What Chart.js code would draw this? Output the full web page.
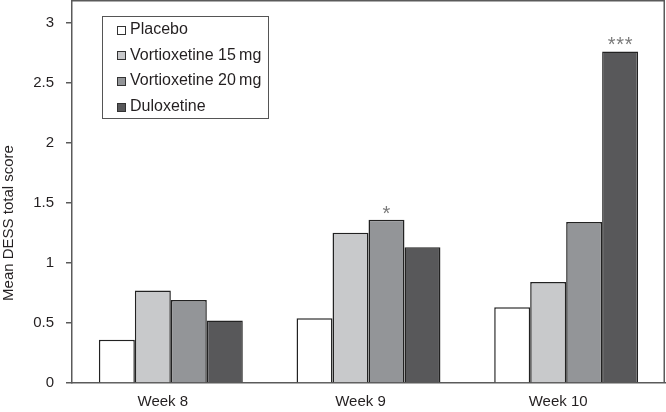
<!DOCTYPE html>
<html>
<head>
<meta charset="utf-8">
<script src="https://cdn.jsdelivr.net/npm/chart.js@4"></script>
<style>
  html, body { margin: 0; padding: 0; background: #fff; }
  #wrap { width: 666px; height: 412px; }
</style>
</head>
<body>
<div id="wrap"><canvas id="dessChart" width="666" height="412"></canvas></div>
<script>
// Data
const weeks = ['Week 8', 'Week 9', 'Week 10'];
const seriesNames = ['Placebo', 'Vortioxetine 15\u202Fmg', 'Vortioxetine 20\u202Fmg', 'Duloxetine'];
const placebo = [0.36, 0.54, 0.63];
const vortio15 = [0.77, 1.25, 0.84];
const vortio20 = [0.69, 1.36, 1.34];
const duloxetine = [0.52, 1.13, 2.76];
const yTicks = [0, 0.5, 1, 1.5, 2, 2.5, 3];
const yTickLabels = ['0', '0.5', '1', '1.5', '2', '2.5', '3'];
// significance marks: [series index, week index, text]
const sigMarks = [[2, 1, '*'], [3, 2, '***']];

const fills = ['#ffffff', '#c8c9cb', '#939598', '#58585a'];
const textColor = '#231f20';
const fontFamily = '"Liberation Sans", Arial, Helvetica, sans-serif';

// Frame, y title, legend box and asterisks
const extras = {
    id: 'extras',
    afterDatasetsDraw(chart) {
        const ctx = chart.ctx;
        const area = chart.chartArea;
        ctx.save();

        // top and right edge of the plot box
        ctx.strokeStyle = '#5a5a5a';
        ctx.lineWidth = 1.5;
        ctx.beginPath();
        ctx.moveTo(area.left, 0.75);
        ctx.lineTo(area.right - 0.75, 0.75);
        ctx.lineTo(area.right - 0.75, area.bottom);
        ctx.stroke();

        // asterisks
        ctx.fillStyle = '#7a7a7a';
        ctx.font = '20px ' + fontFamily;
        const m = ctx.measureText('*');
        const mid = (m.actualBoundingBoxAscent - m.actualBoundingBoxDescent) / 2;
        ctx.textAlign = 'center';
        ctx.textBaseline = 'alphabetic';
        sigMarks.forEach(function(s) {
            const bar = chart.getDatasetMeta(s[0]).data[s[1]];
            const n = s[2].length;
            for (let i = 0; i < n; i++) {
                const x = bar.x + (i - (n - 1) / 2) * 8.5;
                ctx.fillText('*', x, bar.y - 10 + mid);
            }
        });

        // y axis title
        ctx.fillStyle = textColor;
        ctx.font = '15px ' + fontFamily;
        ctx.textAlign = 'center';
        ctx.textBaseline = 'middle';
        ctx.translate(9, 223);
        ctx.rotate(-Math.PI / 2);
        ctx.fillText('Mean DESS total score', 0, 0);
        ctx.setTransform(1, 0, 0, 1, 0, 0);

        // legend
        ctx.strokeStyle = '#555';
        ctx.lineWidth = 1;
        ctx.fillStyle = '#fff';
        ctx.fillRect(102.5, 16.5, 166, 102);
        ctx.strokeRect(102.5, 16.5, 166, 102);
        ctx.font = '16px ' + fontFamily;
        ctx.textAlign = 'left';
        ctx.textBaseline = 'middle';
        chart.data.datasets.forEach(function(ds, i) {
            const y = 29.5 + i * 25.7;
            ctx.fillStyle = ds.backgroundColor;
            ctx.fillRect(117.5, Math.round(y - 4) + 0.5, 8, 8);
            ctx.strokeStyle = '#333';
            ctx.strokeRect(117.5, Math.round(y - 4) + 0.5, 8, 8);
            ctx.fillStyle = textColor;
            ctx.fillText(ds.label, 130, y);
        });
        ctx.restore();
    }
};

const allSeries = [placebo, vortio15, vortio20, duloxetine];

new Chart(document.getElementById('dessChart').getContext('2d'), {
    type: 'bar',
    data: {
        labels: weeks,
        datasets: allSeries.map(function(values, i) {
            return {
                label: seriesNames[i],
                data: values,
                backgroundColor: fills[i],
                borderColor: '#222',
                borderWidth: 1.5,
                borderSkipped: 'bottom',
                categoryPercentage: 0.728,
                barPercentage: 1.0
            };
        })
    },
    options: {
        responsive: false,
        animation: false,
        layout: { padding: { top: 1, right: 1, left: 0, bottom: 0 } },
        plugins: {
            legend: { display: false },
            tooltip: { enabled: false }
        },
        scales: {
            x: {
                grid: { display: false, drawTicks: false },
                border: { display: true, color: '#5a5a5a', width: 1.5 },
                ticks: {
                    color: textColor,
                    font: { family: fontFamily, size: 15 },
                    padding: 10,
                    labelOffset: -8
                },
                afterFit: function(scale) {
                    scale.height = 29;
                    scale.paddingLeft = 0;
                    scale.paddingRight = 0;
                }
            },
            y: {
                min: 0,
                max: 3.18,
                grid: {
                    drawOnChartArea: false,
                    drawTicks: true,
                    tickLength: 6,
                    color: '#5a5a5a',
                    lineWidth: 1.5
                },
                border: { display: true, color: '#5a5a5a', width: 1.5 },
                afterBuildTicks: function(scale) {
                    scale.ticks = yTicks.map(function(v) { return { value: v }; });
                },
                ticks: {
                    color: textColor,
                    font: { family: fontFamily, size: 15 },
                    padding: 12,
                    callback: function(value, index) { return yTickLabels[index]; }
                },
                afterFit: function(scale) {
                    scale.width = 72;
                    scale.paddingTop = 0;
                    scale.paddingBottom = 0;
                }
            }
        }
    },
    plugins: [extras]
});
</script>
</body>
</html>
